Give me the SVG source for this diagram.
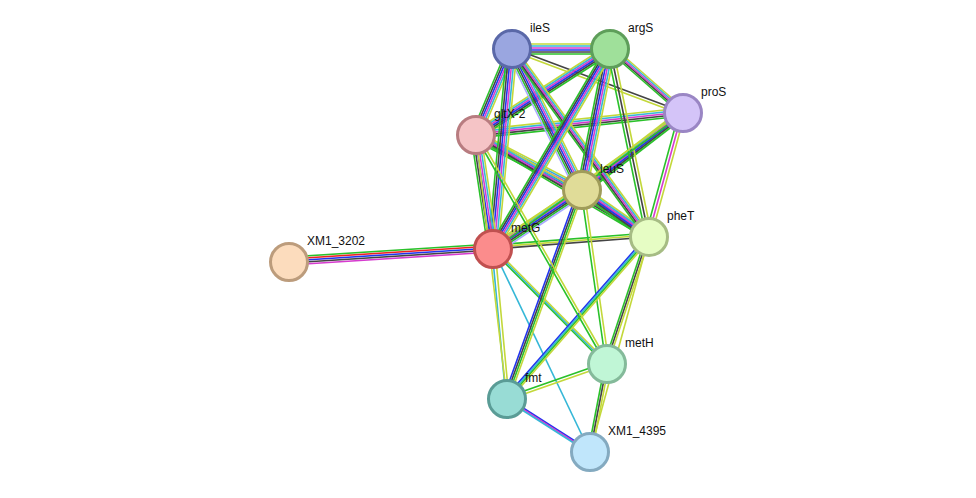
<svg xmlns="http://www.w3.org/2000/svg" width="976" height="498" viewBox="0 0 976 498">
<style>
.e line{stroke-width:1.6;fill:none}
.yg{stroke:#c3d83a}.cy{stroke:#35b7d7}.mg{stroke:#d63bcf}.bl{stroke:#2233ee}.bk{stroke:#444}.gr{stroke:#2ac12a}.rd{stroke:#e22}.hm{stroke:#aaaaff}
.n circle{stroke-width:3}
text{font-family:"Liberation Sans",Arial,sans-serif;font-size:12px;fill:#111}
</style>
<rect width="976" height="498" fill="#fff"/>
<g id="connectors" class="e">
<!-- XM1_3202-metG -->
<g><line class="gr" x1="289" y1="257" x2="493" y2="244"/><line class="rd" x1="289" y1="259" x2="493" y2="246"/><line class="bl" x1="289" y1="261" x2="493" y2="248"/><line class="bk" x1="289" y1="263" x2="493" y2="250"/><line class="mg" x1="289" y1="265" x2="493" y2="252"/></g>
<!-- horizontal-ish full bundles (offset y) -->
<g><line class="yg" x1="512" y1="44" x2="610" y2="44"/><line class="cy" x1="512" y1="46" x2="610" y2="46"/><line class="mg" x1="512" y1="48" x2="610" y2="48"/><line class="bl" x1="512" y1="50" x2="610" y2="50"/><line class="bk" x1="512" y1="52" x2="610" y2="52"/><line class="gr" x1="512" y1="54" x2="610" y2="54"/></g>
<g><line class="bk" x1="512" y1="48" x2="683" y2="112"/><line class="yg" x1="512" y1="51" x2="683" y2="115"/></g>
<g><line class="yg" x1="476" y1="130" x2="683" y2="108"/><line class="cy" x1="476" y1="132" x2="683" y2="110"/><line class="mg" x1="476" y1="134" x2="683" y2="112"/><line class="bk" x1="476" y1="136" x2="683" y2="114"/><line class="gr" x1="476" y1="138" x2="683" y2="116"/></g>
<g><line class="gr" x1="493" y1="245" x2="649" y2="233"/><line class="yg" x1="493" y1="247" x2="649" y2="235"/><line class="bk" x1="493" y1="249" x2="649" y2="237"/></g>
<g><line class="yg" x1="476" y1="131" x2="582" y2="186"/><line class="cy" x1="476" y1="133" x2="582" y2="188"/><line class="mg" x1="476" y1="135" x2="582" y2="190"/><line class="bl" x1="476" y1="137" x2="582" y2="192"/><line class="bk" x1="476" y1="139" x2="582" y2="194"/><line class="gr" x1="476" y1="141" x2="582" y2="196"/></g>
<g><line class="yg" x1="476" y1="130" x2="649" y2="232"/><line class="cy" x1="476" y1="132" x2="649" y2="234"/><line class="mg" x1="476" y1="134" x2="649" y2="236"/><line class="bk" x1="476" y1="136" x2="649" y2="238"/><line class="gr" x1="476" y1="138" x2="649" y2="240"/></g>
<g><line class="yg" x1="583" y1="185" x2="683" y2="108"/><line class="cy" x1="583" y1="187" x2="683" y2="110"/><line class="mg" x1="583" y1="189" x2="683" y2="112"/><line class="bl" x1="583" y1="191" x2="683" y2="114"/><line class="bk" x1="583" y1="193" x2="683" y2="116"/><line class="gr" x1="583" y1="195" x2="683" y2="118"/></g>
<g><line class="yg" x1="582" y1="185" x2="649" y2="232"/><line class="cy" x1="582" y1="187" x2="649" y2="234"/><line class="mg" x1="582" y1="189" x2="649" y2="236"/><line class="bl" x1="582" y1="191" x2="649" y2="238"/><line class="bk" x1="582" y1="193" x2="649" y2="240"/><line class="gr" x1="582" y1="195" x2="649" y2="242"/></g>
<g><line class="yg" x1="493" y1="244" x2="582" y2="185"/><line class="cy" x1="493" y1="246" x2="582" y2="187"/><line class="mg" x1="493" y1="248" x2="582" y2="189"/><line class="bl" x1="493" y1="250" x2="582" y2="191"/><line class="bk" x1="493" y1="252" x2="582" y2="193"/><line class="gr" x1="493" y1="254" x2="582" y2="195"/><line class="hm" x1="493" y1="256" x2="582" y2="197"/></g>
<g><line class="yg" x1="610" y1="44" x2="683" y2="108"/><line class="cy" x1="610" y1="46" x2="683" y2="110"/><line class="mg" x1="610" y1="48" x2="683" y2="112"/><line class="bk" x1="610" y1="50" x2="683" y2="114"/><line class="gr" x1="610" y1="52" x2="683" y2="116"/></g>
<g><line class="yg" x1="610" y1="44" x2="476" y2="130"/><line class="cy" x1="610" y1="46" x2="476" y2="132"/><line class="mg" x1="610" y1="48" x2="476" y2="134"/><line class="bl" x1="610" y1="50" x2="476" y2="136"/><line class="bk" x1="610" y1="52" x2="476" y2="138"/><line class="gr" x1="610" y1="54" x2="476" y2="140"/></g>
<!-- vertical-ish bundles (offset x) -->
<g><line class="gr" x1="507" y1="49" x2="471" y2="135"/><line class="bk" x1="509" y1="49" x2="473" y2="135"/><line class="bl" x1="511" y1="49" x2="475" y2="135"/><line class="mg" x1="513" y1="49" x2="477" y2="135"/><line class="cy" x1="515" y1="49" x2="479" y2="135"/><line class="yg" x1="517" y1="49" x2="481" y2="135"/></g>
<g><line class="gr" x1="507" y1="49" x2="577" y2="190"/><line class="bk" x1="509" y1="49" x2="579" y2="190"/><line class="bl" x1="511" y1="49" x2="581" y2="190"/><line class="mg" x1="513" y1="49" x2="583" y2="190"/><line class="cy" x1="515" y1="49" x2="585" y2="190"/><line class="yg" x1="517" y1="49" x2="587" y2="190"/><line class="hm" x1="505" y1="49" x2="575" y2="190"/></g>
<g><line class="gr" x1="508" y1="49" x2="645" y2="237"/><line class="bk" x1="510" y1="49" x2="647" y2="237"/><line class="mg" x1="512" y1="49" x2="649" y2="237"/><line class="cy" x1="514" y1="49" x2="651" y2="237"/><line class="yg" x1="516" y1="49" x2="653" y2="237"/></g>
<g><line class="gr" x1="507" y1="49" x2="488" y2="249"/><line class="bk" x1="509" y1="49" x2="490" y2="249"/><line class="bl" x1="511" y1="49" x2="492" y2="249"/><line class="mg" x1="513" y1="49" x2="494" y2="249"/><line class="cy" x1="515" y1="49" x2="496" y2="249"/><line class="yg" x1="517" y1="49" x2="498" y2="249"/></g>
<g><line class="gr" x1="605" y1="49" x2="577" y2="190"/><line class="bk" x1="607" y1="49" x2="579" y2="190"/><line class="bl" x1="609" y1="49" x2="581" y2="190"/><line class="mg" x1="611" y1="49" x2="583" y2="190"/><line class="cy" x1="613" y1="49" x2="585" y2="190"/><line class="yg" x1="615" y1="49" x2="587" y2="190"/></g>
<g><line class="gr" x1="607" y1="49" x2="646" y2="237"/><line class="bk" x1="610" y1="49" x2="649" y2="237"/><line class="yg" x1="613" y1="49" x2="652" y2="237"/></g>
<g><line class="gr" x1="605" y1="49" x2="488" y2="249"/><line class="bk" x1="607" y1="49" x2="490" y2="249"/><line class="bl" x1="609" y1="49" x2="492" y2="249"/><line class="mg" x1="611" y1="49" x2="494" y2="249"/><line class="cy" x1="613" y1="49" x2="496" y2="249"/><line class="yg" x1="615" y1="49" x2="498" y2="249"/></g>
<g><line class="gr" x1="679" y1="113" x2="645" y2="237"/><line class="mg" x1="682" y1="113" x2="648" y2="237"/><line class="yg" x1="685" y1="113" x2="651" y2="237"/></g>
<g><line class="yg" x1="683" y1="111" x2="493" y2="247"/><line class="gr" x1="683" y1="114" x2="493" y2="250"/></g>
<g><line class="gr" x1="471" y1="135" x2="488" y2="249"/><line class="bk" x1="473" y1="135" x2="490" y2="249"/><line class="bl" x1="475" y1="135" x2="492" y2="249"/><line class="mg" x1="477" y1="135" x2="494" y2="249"/><line class="cy" x1="479" y1="135" x2="496" y2="249"/><line class="yg" x1="481" y1="135" x2="498" y2="249"/></g>
<!-- lower -->
<g><line class="gr" x1="491" y1="249" x2="605" y2="364"/><line class="cy" x1="493" y1="249" x2="607" y2="364"/><line class="yg" x1="495" y1="249" x2="609" y2="364"/></g>
<g><line class="cy" x1="492" y1="249" x2="506" y2="399"/><line class="yg" x1="495" y1="249" x2="509" y2="399"/></g>
<g><line class="cy" x1="493" y1="249" x2="590" y2="452"/></g>
<g><line class="bl" x1="578" y1="190" x2="503" y2="399"/><line class="bk" x1="580" y1="190" x2="505" y2="399"/><line class="gr" x1="582" y1="190" x2="507" y2="399"/><line class="yg" x1="584" y1="190" x2="509" y2="399"/></g>
<g><line class="gr" x1="581" y1="190" x2="606" y2="364"/><line class="yg" x1="584" y1="190" x2="609" y2="364"/></g>
<g><line class="bl" x1="646" y1="237" x2="504" y2="399"/><line class="cy" x1="648" y1="237" x2="506" y2="399"/><line class="gr" x1="650" y1="237" x2="508" y2="399"/><line class="yg" x1="652" y1="237" x2="510" y2="399"/></g>
<g><line class="gr" x1="646" y1="237" x2="604" y2="364"/><line class="bk" x1="648" y1="237" x2="606" y2="364"/><line class="yg" x1="650" y1="237" x2="608" y2="364"/></g>
<g><line class="gr" x1="475" y1="135" x2="606" y2="364"/><line class="yg" x1="478" y1="135" x2="609" y2="364"/></g>
<g><line class="yg" x1="476" y1="135" x2="507" y2="399"/></g>
<g><line class="yg" x1="649" y1="237" x2="590" y2="452"/></g>
<g><line class="gr" x1="507" y1="397" x2="607" y2="362"/><line class="yg" x1="507" y1="400" x2="607" y2="365"/></g>
<g><line class="bl" x1="506" y1="397" x2="589" y2="450"/><line class="mg" x1="507" y1="399" x2="590" y2="452"/><line class="cy" x1="508" y1="401" x2="591" y2="454"/></g>
<g><line class="gr" x1="605" y1="364" x2="588" y2="452"/><line class="bk" x1="607" y1="364" x2="590" y2="452"/><line class="yg" x1="609" y1="364" x2="592" y2="452"/></g>
</g>
<g id="ileS" class="n"><circle cx="512" cy="49" r="18.5" fill="#9aa6e0" stroke="#5a68a8"/><text x="530" y="32">ileS</text></g>
<g id="argS" class="n"><circle cx="610" cy="49" r="18.5" fill="#9fe09a" stroke="#5e9e5a"/><text x="628" y="32">argS</text></g>
<g id="proS" class="n"><circle cx="683" cy="113" r="18.5" fill="#d4c4f8" stroke="#9a86c4"/><text x="701" y="96">proS</text></g>
<g id="gltX-2" class="n"><circle cx="476" cy="135" r="18.5" fill="#f5c4c6" stroke="#b87c80"/><text x="494" y="118">gltX-2</text></g>
<g id="leuS" class="n"><circle cx="582" cy="190" r="18.5" fill="#e0dc98" stroke="#a09c5a"/><text x="600" y="173">leuS</text></g>
<g id="pheT" class="n"><circle cx="649" cy="237" r="18.5" fill="#e6fdc4" stroke="#a6bc84"/><text x="667" y="220">pheT</text></g>
<g id="metG" class="n"><circle cx="493" cy="249" r="18.5" fill="#fb8c8c" stroke="#c05050"/><text x="511" y="232">metG</text></g>
<g id="XM1_3202" class="n"><circle cx="289" cy="262" r="18.5" fill="#fcdcbd" stroke="#bc9c7c"/><text x="307" y="245">XM1_3202</text></g>
<g id="metH" class="n"><circle cx="607" cy="364" r="18.5" fill="#c0f6d6" stroke="#84ba9a"/><text x="625" y="347">metH</text></g>
<g id="fmt" class="n"><circle cx="507" cy="399" r="18.5" fill="#98dcd5" stroke="#5a9c96"/><text x="525" y="382">fmt</text></g>
<g id="XM1_4395" class="n"><circle cx="590" cy="452" r="18.5" fill="#c0e6fb" stroke="#84aac0"/><text x="608" y="435">XM1_4395</text></g>
</svg>
